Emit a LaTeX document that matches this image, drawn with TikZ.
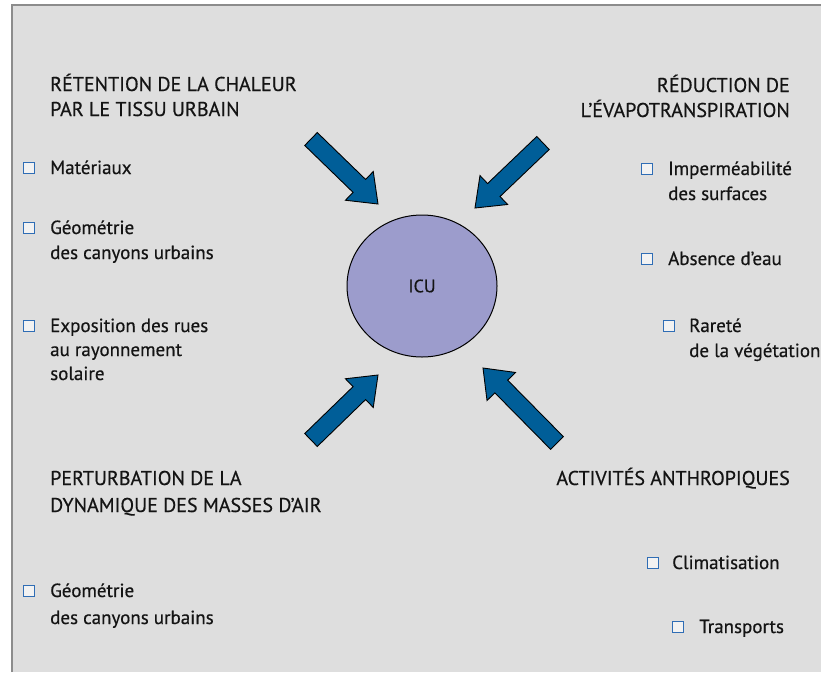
\documentclass[tikz,border=0pt]{standalone}
\usepackage{fontspec}
\setmainfont{PT Sans}[FakeBold=0.5]
\usetikzlibrary{calc,shapes.geometric}
\definecolor{bg}{HTML}{DEDEDE}
\definecolor{arrowblue}{HTML}{005E98}
\definecolor{icufill}{HTML}{9C9CCC}
\definecolor{bulletblue}{HTML}{2F6DB5}
\definecolor{framegray}{HTML}{8C8C8C}
\definecolor{txt}{HTML}{141414}
\tikzset{
  lbl/.style={anchor=base west, align=left, font=\fontsize{19}{25}\selectfont, text=txt, inner sep=0pt},
  head/.style={anchor=base west, align=left, font=\fontsize{20}{25}\selectfont, text=txt, inner sep=0pt},
  headr/.style={anchor=base east, align=right, font=\fontsize{20}{25}\selectfont, text=txt, inner sep=0pt},
  bullet/.style={draw=bulletblue, line width=1.5pt, fill=white!60!bg, minimum size=11pt, inner sep=0pt},
  blk/.style={fill=arrowblue, draw=black, line width=0.9pt, line join=miter},
}
\newcommand\blkarrow[1]{%
  \coordinate (#1b) at ($(#1p)!26pt!(#1t)$);
  \path[blk] ($(#1t)!9pt!90:(#1p)$) -- ($(#1b)!9pt!90:(#1p)$) -- ($(#1b)!20pt!90:(#1p)$)
    -- (#1p) -- ($(#1b)!20pt!-90:(#1p)$) -- ($(#1b)!9pt!-90:(#1p)$) -- ($(#1t)!9pt!-90:(#1p)$) -- cycle;}
\begin{document}
\begin{tikzpicture}[x=1pt,y=-1pt]
\useasboundingbox (0,0) rectangle (821,672);
\fill[white] (0,0) rectangle (821,672);
\fill[bg] (12,5) rectangle (821,672);
\draw[framegray, line width=2pt] (12,672) -- (12,5) -- (821,5);

% centre
\node[ellipse, draw=black, line width=1pt, fill=icufill, minimum width=150pt, minimum height=142pt,
      inner sep=0pt, font=\fontsize{18}{18}\selectfont, text=txt] (icu) at (422,286) {ICU};

% arrows
\coordinate (at) at (311,139); \coordinate (ap) at (378,204);
\coordinate (bt) at (543,143); \coordinate (bp) at (475,208);
\coordinate (ct) at (311,440); \coordinate (cp) at (378,375);
\coordinate (dt) at (557,443); \coordinate (dp) at (483,368);
\blkarrow{a}\blkarrow{b}\blkarrow{c}\blkarrow{d}

% top left (base anchor = last line)
\node[head] (h1) at (50,116) {RÉTENTION DE LA CHALEUR\\PAR LE TISSU URBAIN};
\node[bullet] (b1) at (29,168) {};
\node[lbl] (t1) at (50,174) {Matériaux};
\node[bullet] (b2) at (29,228) {};
\node[lbl] (t2) at (50,259) {Géométrie\\des canyons urbains};
\node[bullet] (b3) at (29,326) {};
\node[lbl, font=\fontsize{19}{24}\selectfont] (t3) at (50,380) {Exposition des rues\\au rayonnement\\solaire};

% top right
\node[headr] (h2) at (790,117) {RÉDUCTION DE\\L'ÉVAPOTRANSPIRATION};
\node[bullet] (b4) at (647,169) {};
\node[lbl] (t4) at (668,200) {Imperméabilité\\des surfaces};
\node[bullet] (b5) at (647,259) {};
\node[lbl] (t5) at (668,265) {Absence d'eau};
\node[bullet] (b6) at (669,326) {};
\node[lbl] (t6) at (689,357) {Rareté\\de la végétation};

% bottom left
\node[head, font=\fontsize{20}{27}\selectfont] (h3) at (50,512) {PERTURBATION DE LA\\DYNAMIQUE DES MASSES D'AIR};
\node[bullet] (b7) at (29,591) {};
\node[lbl, font=\fontsize{19}{27}\selectfont] (t7) at (50,624) {Géométrie\\des canyons urbains};

% bottom right
\node[headr] (h4) at (790,485) {ACTIVITÉS ANTHROPIQUES};
\node[bullet] (b8) at (653,563) {};
\node[lbl] (t8) at (672,569) {Climatisation};
\node[bullet] (b9) at (678,627) {};
\node[lbl] (t9) at (699,633) {Transports};
\end{tikzpicture}
\end{document}
